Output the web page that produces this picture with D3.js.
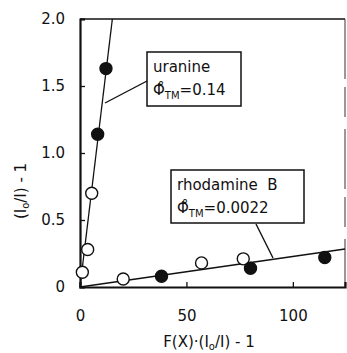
<!DOCTYPE html>
<html>
<head>
<meta charset="utf-8">
<script src="https://cdn.jsdelivr.net/npm/d3@7"></script>
<style>
body { margin: 0; background: #fff; }
text, tspan { font-family: 'DejaVu Sans', sans-serif; fill: #111; }
</style>
</head>
<body>
<svg id="chart" width="347" height="353"></svg>
<script>
// data
const uranineOpen = [[1.1, 0.11], [3.6, 0.28], [5.5, 0.70]];
const uranineFilled = [[8.3, 1.14], [12.2, 1.63]];
const rhodamineOpen = [[20.3, 0.06], [57.1, 0.18], [76.7, 0.21]];
const rhodamineFilled = [[38.3, 0.08], [80.1, 0.14], [115, 0.22]];
const uranineLine = [[0, 0], [15.2, 2.0]];
const rhodamineLine = [[0, 0], [124.5, 0.283]];
const xTicks = [0, 50, 100];
const yTicks = [0, 0.5, 1.0, 1.5, 2.0];

const svg = d3.select('#chart');
const margin = { left: 80, top: 19, right: 2, bottom: 66 };
const width = 347 - margin.left - margin.right;
const height = 353 - margin.top - margin.bottom;

const x = d3.scaleLinear().domain([0, 124.5]).range([0, width]);
const y = d3.scaleLinear().domain([0, 2.0]).range([height, 0]);

const g = svg.append('g').attr('transform', `translate(${margin.left},${margin.top})`);

// frame
g.append('line').attr('x1', 0).attr('y1', 0).attr('x2', width).attr('y2', 0)
    .attr('stroke', '#111').attr('stroke-width', 1.6);
g.append('line').attr('x1', width).attr('y1', 0).attr('x2', width).attr('y2', height)
    .attr('stroke', '#333').attr('stroke-width', 1).attr('stroke-dasharray', '60,8,30,12');

// axes with inward ticks
const xAxis = g.append('g').attr('transform', `translate(0,${height})`)
    .call(d3.axisBottom(x).tickValues(xTicks).tickSize(-5).tickPadding(23).tickFormat(d3.format('d')));
const yAxis = g.append('g')
    .call(d3.axisLeft(y).tickValues(yTicks).tickSize(-5).tickPadding(15)
        .tickFormat(d => d === 0 ? '0' : d3.format('.1f')(d)));

[xAxis, yAxis].forEach(a => {
    a.select('.domain').attr('stroke', '#111').attr('stroke-width', 2.2);
    a.selectAll('.tick line').attr('stroke', '#111').attr('stroke-width', 1.3);
    a.selectAll('.tick text').style('font-size', '15px').attr('fill', '#111')
        .style('font-family', "'DejaVu Sans', sans-serif");
});

// fitted lines
const line = d3.line().x(d => x(d[0])).y(d => y(d[1]));
g.append('path').datum(uranineLine).attr('d', line)
    .attr('fill', 'none').attr('stroke', '#111').attr('stroke-width', 1.3);
g.append('path').datum(rhodamineLine).attr('d', line)
    .attr('fill', 'none').attr('stroke', '#111').attr('stroke-width', 1.6);

// points
function drawPoints(data, filled) {
    g.selectAll(null).data(data).enter().append('circle')
        .attr('cx', d => x(d[0])).attr('cy', d => y(d[1]))
        .attr('r', 6)
        .attr('fill', filled ? '#111' : '#fff')
        .attr('stroke', '#111').attr('stroke-width', 1.4);
}
drawPoints(uranineOpen, false);
drawPoints(uranineFilled, true);
drawPoints(rhodamineOpen, false);
drawPoints(rhodamineFilled, true);

// annotation boxes
function addLabel(box, name, value, leader) {
    svg.append('rect')
        .attr('x', box.x).attr('y', box.y).attr('width', box.w).attr('height', box.h)
        .attr('fill', '#fff').attr('stroke', '#111').attr('stroke-width', 1.5);
    svg.append('text').attr('x', box.x + 6).attr('y', box.y + 20)
        .style('font-size', '15px').text(name);
    const t = svg.append('text').attr('x', box.x + 6).attr('y', box.y + 43).style('font-size', '15px');
    t.append('tspan').text('Φ\u030A');
    t.append('tspan').attr('dy', 4).style('font-size', '10px').style('fill', '#111').text('TM');
    t.append('tspan').attr('dy', -4).style('fill', '#111').text('=' + value);
    svg.append('line')
        .attr('x1', leader[0]).attr('y1', leader[1]).attr('x2', leader[2]).attr('y2', leader[3])
        .attr('stroke', '#111').attr('stroke-width', 1.4);
}
addLabel({ x: 147, y: 52, w: 94, h: 54 }, 'uranine', '0.14', [147, 81, 105, 103]);
addLabel({ x: 171, y: 170, w: 133, h: 53 }, 'rhodamine\u00A0\u00A0B', '0.0022', [256, 224, 273, 258]);

// axis titles
const yt = svg.append('text').attr('transform', 'translate(26,191) rotate(-90)')
    .attr('text-anchor', 'middle').style('font-size', '15px');
yt.append('tspan').text('(I');
yt.append('tspan').attr('dy', 3).style('font-size', '10px').text('o');
yt.append('tspan').attr('dy', -3).text('/I) - 1');

const xt = svg.append('text').attr('x', 209).attr('y', 347)
    .attr('text-anchor', 'middle').style('font-size', '15px');
xt.append('tspan').text('F(X)·(I');
xt.append('tspan').attr('dy', 3).style('font-size', '10px').text('o');
xt.append('tspan').attr('dy', -3).text('/I) - 1');
</script>
</body>
</html>
